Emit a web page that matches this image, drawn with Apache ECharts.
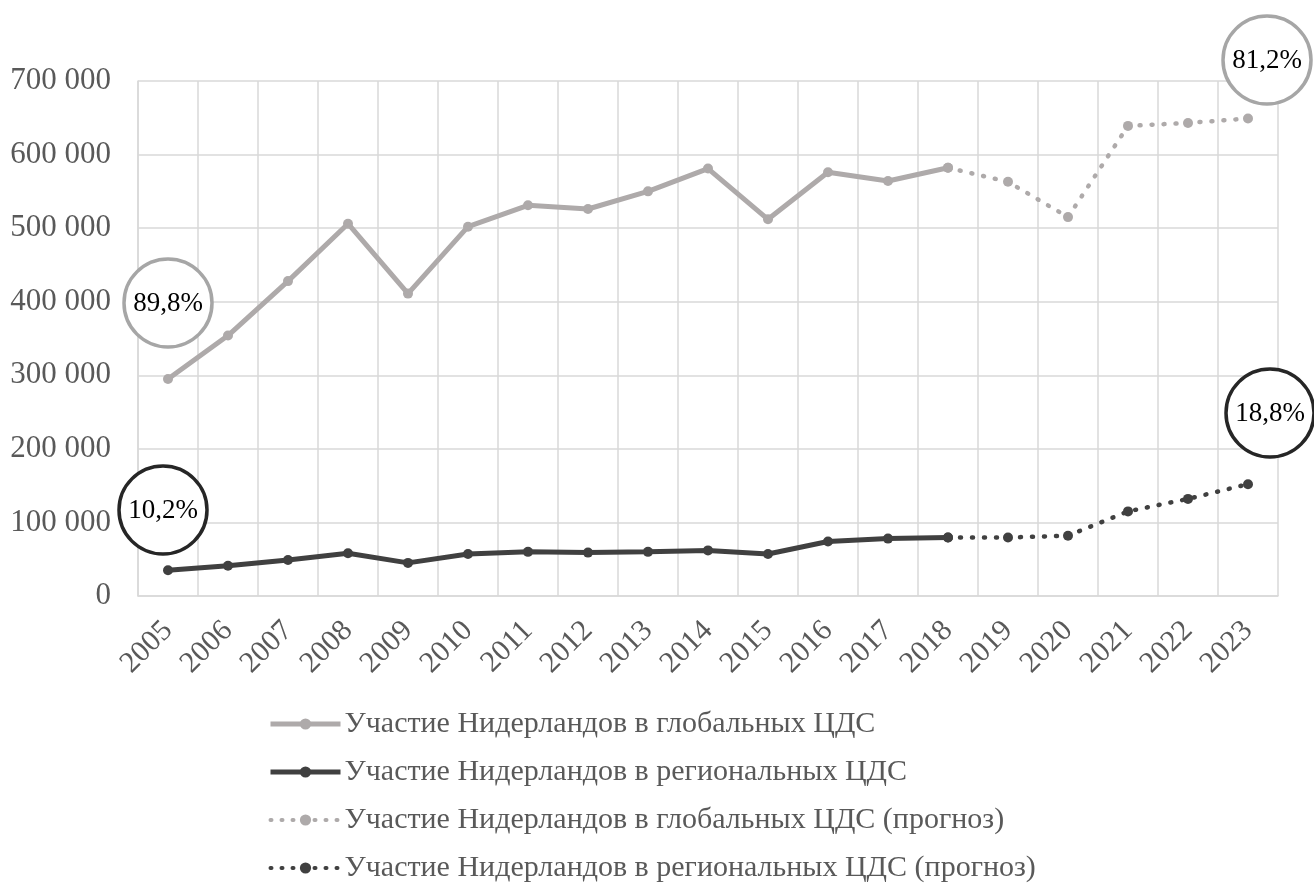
<!DOCTYPE html>
<html>
<head>
<meta charset="utf-8">
<script src="https://cdn.jsdelivr.net/npm/echarts@6/dist/echarts.min.js"></script>
<style>
  html, body { margin: 0; padding: 0; background: #ffffff; }
  #chart { width: 1314px; height: 883px; }
</style>
</head>
<body>
<div id="chart"></div>
<script>
// ---- data ----
const years = ['2005','2006','2007','2008','2009','2010','2011','2012','2013','2014','2015','2016','2017','2018','2019','2020','2021','2022','2023'];
// actual values 2005–2018
const globalActual   = [295000, 354000, 428000, 506000, 411000, 502000, 531000, 526000, 550000, 581000, 512000, 576000, 564000, 582000];
const regionalActual = [35000, 41000, 49000, 58000, 45000, 57000, 60000, 59000, 60000, 62000, 57000, 74000, 78000, 79500];
// forecast values 2018–2023
const globalForecast   = [582000, 563000, 515000, 639000, 643000, 649000];
const regionalForecast = [79500, 79500, 82000, 115000, 132000, 152000];
const seriesNames = [
  'Участие Нидерландов в глобальных ЦДС',
  'Участие Нидерландов в региональных ЦДС',
  'Участие Нидерландов в глобальных ЦДС (прогноз)',
  'Участие Нидерландов в региональных ЦДС (прогноз)'
];
const yTicks = { min: 0, max: 700000, interval: 100000 };
const shareLabels = ['89,8%', '10,2%', '81,2%', '18,8%'];

// ---- helpers ----
function padActual(arr) {
  return years.map((y, i) => (i < arr.length ? arr[i] : null));
}
function padForecast(arr) {
  const start = years.length - arr.length;
  return years.map((y, i) => (i >= start ? arr[i - start] : null));
}
function fmt(v) {
  return String(v).replace(/\B(?=(\d{3})+(?!\d))/g, ' ');
}

const FONT = '"Liberation Serif", "Times New Roman", serif';
const TXT = '#595959';
const GRID = '#d9d9d9';
const C_GLOBAL = '#aeaaaa';
const C_REG = '#404040';
const DOTS = [1, 10];

function circleAnno(cx, cy, r, color, text) {
  return {
    type: 'group',
    z: 100,
    children: [
      { type: 'circle', z: 100, shape: { cx: cx, cy: cy, r: r },
        style: { fill: '#ffffff', stroke: color, lineWidth: 3.5 } },
      { type: 'text', z: 101, x: cx, y: cy + 1,
        style: { text: text, fill: '#000000', font: '27px ' + FONT,
                 align: 'center', verticalAlign: 'middle' } }
    ]
  };
}

const chart = echarts.init(document.getElementById('chart'), null, { renderer: 'canvas' });
chart.setOption({
  animation: false,
  backgroundColor: '#ffffff',
  textStyle: { fontFamily: FONT },
  grid: { left: 138, right: 36, top: 81, bottom: 287, containLabel: false },
  legend: {
    orient: 'vertical',
    left: 268,
    top: 709,
    height: 240,
    padding: 0,
    itemWidth: 70,
    itemHeight: 14,
    itemGap: 18,
    textStyle: { fontFamily: FONT, fontSize: 30, lineHeight: 28, color: TXT, padding: [0, 0, 0, -1] },
    data: [
      { name: seriesNames[0], lineStyle: { width: 5 } },
      { name: seriesNames[1], lineStyle: { width: 5 } },
      { name: seriesNames[2], lineStyle: { width: 4, type: DOTS, cap: 'round' } },
      { name: seriesNames[3], lineStyle: { width: 4, type: DOTS, cap: 'round' } }
    ]
  },
  xAxis: {
    type: 'category',
    data: years,
    boundaryGap: true,
    axisLine: { show: true, lineStyle: { color: GRID, width: 1.5 } },
    axisTick: { show: false },
    splitLine: { show: true, lineStyle: { color: GRID, width: 1.5 } },
    axisLabel: { interval: 0, rotate: 45, margin: 30, fontFamily: FONT, fontSize: 30, color: TXT }
  },
  yAxis: {
    type: 'value',
    min: yTicks.min, max: yTicks.max, interval: yTicks.interval,
    axisLine: { show: true, lineStyle: { color: GRID, width: 1.5 } },
    axisTick: { show: false },
    splitLine: { show: true, lineStyle: { color: GRID, width: 1.5 } },
    axisLabel: { margin: 27, fontFamily: FONT, fontSize: 31, color: TXT, formatter: fmt }
  },
  series: [
    {
      name: seriesNames[0], type: 'line', data: padActual(globalActual),
      symbol: 'circle', symbolSize: 10, z: 3,
      itemStyle: { color: C_GLOBAL },
      lineStyle: { color: C_GLOBAL, width: 5 }
    },
    {
      name: seriesNames[1], type: 'line', data: padActual(regionalActual),
      symbol: 'circle', symbolSize: 10, z: 3,
      itemStyle: { color: C_REG },
      lineStyle: { color: C_REG, width: 5 }
    },
    {
      name: seriesNames[2], type: 'line', data: padForecast(globalForecast),
      symbol: 'circle', symbolSize: 10, z: 2,
      itemStyle: { color: C_GLOBAL },
      lineStyle: { color: C_GLOBAL, width: 4.5, type: [1, 11], cap: 'round' }
    },
    {
      name: seriesNames[3], type: 'line', data: padForecast(regionalForecast),
      symbol: 'circle', symbolSize: 10, z: 2,
      itemStyle: { color: C_REG },
      lineStyle: { color: C_REG, width: 4.5, type: [1, 11], cap: 'round' }
    }
  ],
  graphic: [
    circleAnno(168, 303, 44, '#a6a6a6', shareLabels[0]),
    circleAnno(163, 510, 44, '#262626', shareLabels[1]),
    circleAnno(1267, 60, 44, '#a6a6a6', shareLabels[2]),
    circleAnno(1270, 413, 44, '#262626', shareLabels[3])
  ]
});
</script>
</body>
</html>
